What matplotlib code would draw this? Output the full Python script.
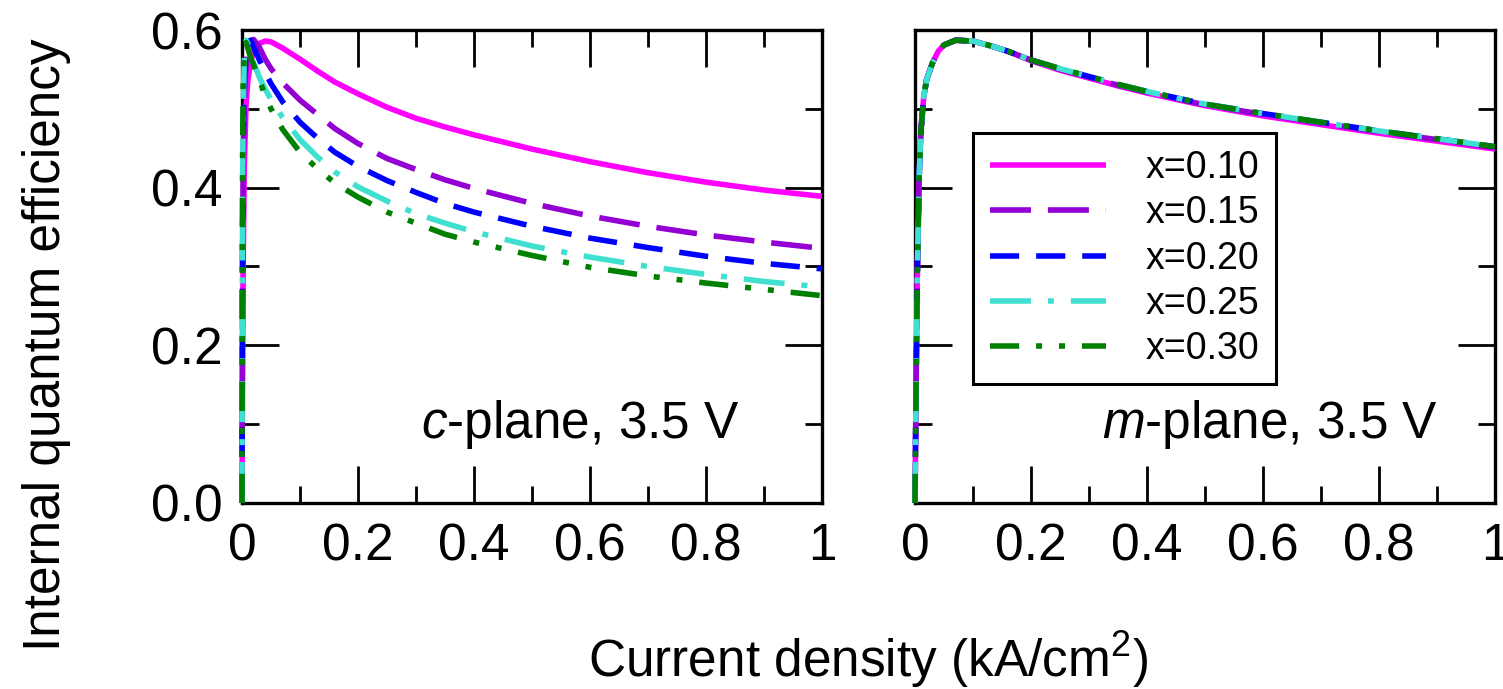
import matplotlib
matplotlib.use("Agg")
import matplotlib.pyplot as plt
from matplotlib.ticker import MultipleLocator

plt.rcParams["font.family"] = ["Liberation Sans", "DejaVu Sans"]
plt.rcParams["mathtext.fontset"] = "custom"
plt.rcParams["mathtext.rm"] = "Liberation Sans"
plt.rcParams["mathtext.it"] = "Liberation Sans:italic"
plt.rcParams["lines.scale_dashes"] = False

# current density (kA/cm^2), shared sampling for every curve
current = [0, 0.001, 0.002, 0.004, 0.007, 0.01, 0.015, 0.02, 0.03, 0.04, 0.05,
           0.07, 0.1, 0.13, 0.16, 0.2, 0.25, 0.3, 0.35, 0.4, 0.5, 0.6, 0.7,
           0.8, 0.9, 1.0]

labels = ["x=0.10", "x=0.15", "x=0.20", "x=0.25", "x=0.30"]

# c-plane IQE
c_010 = [0, 0.18, 0.30, 0.43, 0.505, 0.535, 0.560, 0.572, 0.583, 0.586, 0.585,
         0.577, 0.563, 0.548, 0.534, 0.519, 0.502, 0.488, 0.477, 0.467, 0.449,
         0.433, 0.419, 0.407, 0.397, 0.389]
c_015 = [0, 0.30, 0.42, 0.51, 0.555, 0.574, 0.586, 0.588, 0.578, 0.563, 0.551,
         0.533, 0.511, 0.493, 0.475, 0.456, 0.437, 0.423, 0.410, 0.399, 0.380,
         0.364, 0.351, 0.340, 0.331, 0.323]
c_020 = [0, 0.35, 0.46, 0.54, 0.573, 0.585, 0.587, 0.578, 0.562, 0.546, 0.532,
         0.509, 0.483, 0.463, 0.445, 0.427, 0.409, 0.394, 0.380, 0.369, 0.351,
         0.336, 0.324, 0.313, 0.304, 0.297]
c_025 = [0, 0.40, 0.50, 0.565, 0.587, 0.583, 0.570, 0.558, 0.540, 0.525, 0.512,
         0.489, 0.461, 0.439, 0.420, 0.401, 0.383, 0.367, 0.355, 0.344, 0.326,
         0.312, 0.300, 0.290, 0.281, 0.274]
c_030 = [0, 0.44, 0.53, 0.58, 0.584, 0.577, 0.565, 0.556, 0.537, 0.516, 0.500,
         0.474, 0.445, 0.424, 0.406, 0.388, 0.369, 0.355, 0.341, 0.331, 0.314,
         0.299, 0.288, 0.279, 0.271, 0.263]

# m-plane IQE: the five compositions lie on top of each other
m_010 = [0, 0.08, 0.16, 0.29, 0.41, 0.47, 0.515, 0.537, 0.558, 0.573, 0.581,
         0.587, 0.586, 0.580, 0.573, 0.561, 0.549, 0.539, 0.529, 0.520, 0.504,
         0.491, 0.480, 0.469, 0.459, 0.449]
m_015 = [0, 0.08, 0.16, 0.29, 0.41, 0.47, 0.515, 0.537, 0.558, 0.573, 0.581,
         0.587, 0.586, 0.580, 0.573, 0.562, 0.550, 0.540, 0.530, 0.521, 0.505,
         0.493, 0.482, 0.471, 0.461, 0.451]
m_020 = [0, 0.08, 0.16, 0.29, 0.41, 0.47, 0.515, 0.537, 0.558, 0.573, 0.581,
         0.587, 0.586, 0.580, 0.573, 0.562, 0.551, 0.541, 0.531, 0.522, 0.506,
         0.494, 0.483, 0.472, 0.462, 0.452]
m_025 = m_020
m_030 = m_020

colors = ["#ff00ff", "#9400d3", "#0000ff", "#40e0d0", "#008000"]
styles = [
    "-",
    (0, (29.5, 12.2)),
    (0, (21, 12.2)),
    (0, (29.5, 12.2, 4.3, 12.2)),
    (0, (21, 12.2, 4.3, 12.2, 4.3, 12.2)),
]

fig = plt.figure(figsize=(15.03, 6.89), dpi=100)
W, H = 1503, 689
ax1 = fig.add_axes([242 / W, 1 - 503 / H, 580 / W, 473 / H])
ax2 = fig.add_axes([915 / W, 1 - 503 / H, 580 / W, 473 / H])

for ax, series in ((ax1, [c_010, c_015, c_020, c_025, c_030]),
                   (ax2, [m_010, m_015, m_020, m_025, m_030])):
    for y, c, ls, lab in zip(series, colors, styles, labels):
        ax.plot(current, y, color=c, linestyle=ls, linewidth=4, label=lab,
                solid_capstyle="butt", clip_on=False, zorder=3)
    ax.set_xlim(0, 1)
    ax.set_ylim(0, 0.6)
    ax.xaxis.set_major_locator(MultipleLocator(0.2))
    ax.xaxis.set_minor_locator(MultipleLocator(0.1))
    ax.yaxis.set_major_locator(MultipleLocator(0.2))
    ax.yaxis.set_minor_locator(MultipleLocator(0.1))
    ax.tick_params(which="both", direction="in", top=True, right=True,
                   labelsize=37, width=2, pad=14)
    ax.tick_params(which="major", length=26.5)
    ax.tick_params(which="minor", length=12.5)
    ax.set_xticks([0, 0.2, 0.4, 0.6, 0.8, 1.0])
    ax.set_xticklabels(["0", "0.2", "0.4", "0.6", "0.8", "1"])
    for s in ax.spines.values():
        s.set_linewidth(2.4)

ax1.set_yticks([0, 0.2, 0.4, 0.6])
ax1.set_yticklabels(["0.0", "0.2", "0.4", "0.6"])
ax2.tick_params(labelleft=False)

ax1.text(0.859, 0.137, "$c$-plane, 3.5 V", transform=ax1.transAxes,
         ha="right", va="baseline", fontsize=37)
ax2.text(0.902, 0.137, "$m$-plane, 3.5 V", transform=ax2.transAxes,
         ha="right", va="baseline", fontsize=37)

leg = ax2.legend(loc="upper left", bbox_to_anchor=(0.1, 0.782), fontsize=27,
                 frameon=True, fancybox=False, edgecolor="black",
                 handlelength=3.1, handletextpad=1.05, labelspacing=0.25,
                 borderpad=0.45, borderaxespad=0)
leg.get_frame().set_linewidth(2.2)
leg.get_frame().set_alpha(1)

fig.text(0.031, 0.5, "Internal quantum efficiency", rotation=90,
         ha="center", va="center", fontsize=37)
fig.text(868 / W, 1 - 677 / H, "Current density (kA/cm$^2$)",
         ha="center", va="baseline", fontsize=37)

fig.savefig("out.png", dpi=100)
